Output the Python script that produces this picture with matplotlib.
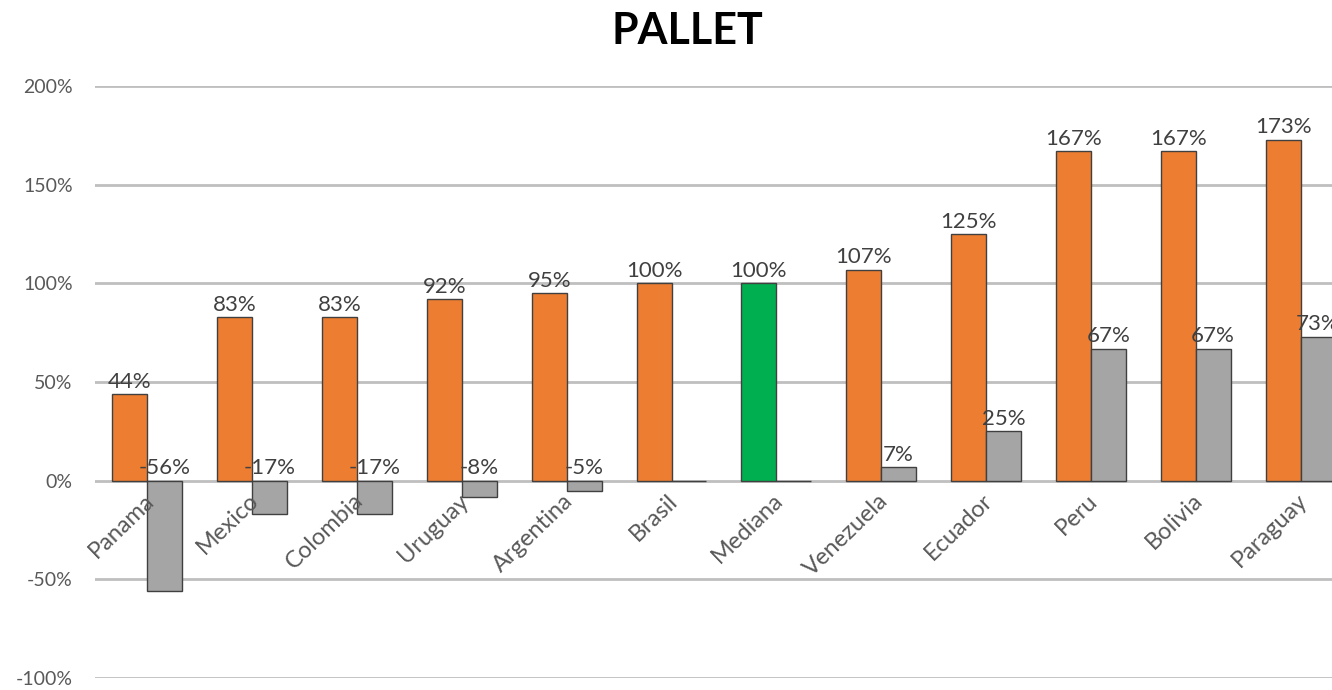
import numpy as np
import matplotlib.pyplot as plt

paises = ["Panama", "Mexico", "Colombia", "Uruguay", "Argentina", "Brasil",
          "Mediana", "Venezuela", "Ecuador", "Peru", "Bolivia", "Paraguay"]
indice = [44, 83, 83, 92, 95, 100, 100, 107, 125, 167, 167, 173]
diferencia = [-56, -17, -17, -8, -5, 0, 0, 7, 25, 67, 67, 73]

plt.rcParams['font.family'] = ['Lato', 'DejaVu Sans']

fig = plt.figure(figsize=(13.32, 6.9), dpi=100)
ax = fig.add_axes([0.0713, 0.0174, 0.9287, 0.8576])

x = np.arange(len(paises))
w = 0.333
col_or = ['#00B050' if p == "Mediana" else '#ED7D31' for p in paises]
ax.bar(x - w/2, np.array(indice)/100, w, color=col_or, edgecolor='#404040', linewidth=1, zorder=3)
ax.bar(x + w/2, np.array(diferencia)/100, w, color='#A5A5A5', edgecolor='#404040', linewidth=1, zorder=3)

for i in range(len(paises)):
    ax.text(x[i] - w/2, indice[i]/100 + 0.012, f"{indice[i]}%", ha='center', va='bottom',
            fontsize=16, color='#404040', zorder=4)
    if diferencia[i] != 0:
        ax.text(x[i] + w/2, max(diferencia[i], 0)/100 + 0.012, f"{diferencia[i]}%", ha='center',
                va='bottom', fontsize=16, color='#404040', zorder=4)
    ax.text(x[i] + 0.03, -0.085, paises[i], rotation=44, rotation_mode='anchor', ha='right',
            va='center', fontsize=17, color='#595959', zorder=4)

ax.set_ylim(-1, 2)
ax.set_xlim(-0.5, 11.3)
ax.set_yticks(np.arange(-1, 2.01, 0.5))
ax.set_yticklabels([f"{int(round(v*100))}%" for v in np.arange(-1, 2.01, 0.5)],
                   fontsize=14, color='#595959')
ax.tick_params(axis='y', length=0, pad=16)
ax.set_xticks([])
ax.grid(axis='y', color='#BFBFBF', linewidth=2, zorder=0)
for s in ax.spines.values():
    s.set_visible(False)

fig.text(0.516, 0.955, "PALLET", ha='center', va='center', fontsize=31, fontweight='bold', color='black')

fig.savefig("out.png", dpi=100)
